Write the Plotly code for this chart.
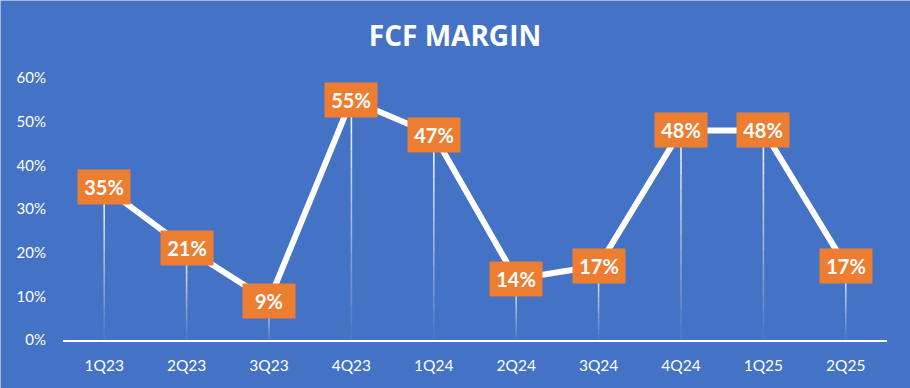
import plotly.graph_objects as go

quarters = ["1Q23", "2Q23", "3Q23", "4Q23", "1Q24", "2Q24", "3Q24", "4Q24", "1Q25", "2Q25"]
fcf_margin = [0.35, 0.21, 0.09, 0.55, 0.47, 0.14, 0.17, 0.48, 0.48, 0.17]
y_ticks = [0, 0.1, 0.2, 0.3, 0.4, 0.5, 0.6]
y_tick_labels = ["0%", "10%", "20%", "30%", "40%", "50%", "60%"]

BG = "#4472C4"
ORANGE = "#ED7D31"
W, H = 910, 388
ML, MR, MT, MB = 63, 23, 78, 48

fig = go.Figure()

# gradient drop lines (white at top fading toward the axis)
n_seg = 14
for k in range(n_seg):
    xs, ys = [], []
    for q, v in zip(quarters, fcf_margin):
        top = v * (1 - k / n_seg)
        bot = v * (1 - (k + 1) / n_seg)
        xs += [q, q, None]
        ys += [top, bot, None]
    op = 0.95 - 0.9 * (k / (n_seg - 1))
    fig.add_trace(go.Scatter(x=xs, y=ys, mode="lines",
                             line=dict(color="white", width=1.6),
                             opacity=op, hoverinfo="skip", showlegend=False))

fig.add_trace(go.Scatter(x=quarters, y=fcf_margin, mode="lines",
                         line=dict(color="white", width=6),
                         showlegend=False))

for q, v in zip(quarters, fcf_margin):
    fig.add_annotation(x=q, y=v, text=f"<b>{round(v*100)}%</b>", showarrow=False,
                       font=dict(family="Lato", size=20, color="white"),
                       bgcolor=ORANGE, width=50, height=32,
                       xanchor="center", yanchor="middle")

fig.update_layout(
    width=W, height=H,
    paper_bgcolor=BG, plot_bgcolor=BG,
    margin=dict(l=ML, r=MR, t=MT, b=MB),
    title=dict(text="<b>FCF MARGIN</b>", x=0.5, xanchor="center",
               xref="container", yref="container", y=1 - 36 / H, yanchor="middle",
               font=dict(family="Open Sans", size=28, color="white")),
    xaxis=dict(type="category", categoryorder="array", categoryarray=quarters,
               showgrid=False, zeroline=False, showline=True, linecolor="white",
               linewidth=2, ticks="", ticklabelstandoff=10,
               tickfont=dict(family="Lato", size=15.5, color="white"),
               range=[-0.5, len(quarters) - 0.5]),
    yaxis=dict(range=[0, 0.6], tickvals=y_ticks, ticktext=y_tick_labels,
               showgrid=False, zeroline=False, showline=False, ticks="",
               ticklabelstandoff=16,
               tickfont=dict(family="Lato", size=15, color="white")),
    shapes=[dict(type="line", xref="paper", yref="paper",
                 x0=-ML / (W - ML - MR), x1=-ML / (W - ML - MR),
                 y0=-MB / (H - MT - MB), y1=(H - MB) / (H - MT - MB),
                 line=dict(color="#c8cfd9", width=1.5)),
            dict(type="line", xref="paper", yref="paper",
                 x0=-ML / (W - ML - MR), x1=(W - ML) / (W - ML - MR),
                 y0=(H - MB) / (H - MT - MB), y1=(H - MB) / (H - MT - MB),
                 line=dict(color="#c8cfd9", width=1.5))],
)

fig.write_html("out.html", config={"displayModeBar": False},
               post_script="document.body.style.margin='0';")
